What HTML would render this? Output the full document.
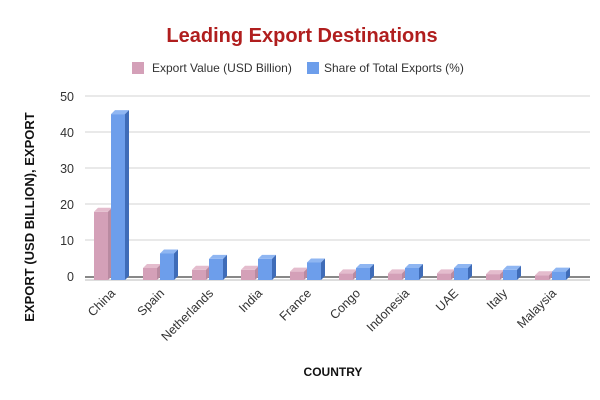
<!DOCTYPE html>
<html><head><meta charset="utf-8"><style>html,body{margin:0;padding:0;background:#fff}svg{display:block}</style></head>
<body>
<svg width="600" height="400" viewBox="0 0 600 400" xmlns="http://www.w3.org/2000/svg" font-family="Liberation Sans, Arial, sans-serif">
<rect width="600" height="400" fill="#fff"/>
<text x="302" y="42" text-anchor="middle" font-size="20" font-weight="bold" fill="#b01e1e">Leading Export Destinations</text>
<rect x="132" y="62" width="12" height="12" fill="#d4a0b8"/>
<text x="152" y="72" font-size="12" fill="#333">Export Value (USD Billion)</text>
<rect x="307" y="62" width="12" height="12" fill="#6d9eeb"/>
<text x="324" y="72" font-size="12" fill="#333">Share of Total Exports (%)</text>
<g stroke="#e2e2e2" stroke-width="1.5">
<line x1="85" y1="96" x2="590" y2="96"/><line x1="85" y1="132" x2="590" y2="132"/>
<line x1="85" y1="168" x2="590" y2="168"/><line x1="85" y1="204" x2="590" y2="204"/>
<line x1="85" y1="240" x2="590" y2="240"/>
</g>
<line x1="85" y1="277" x2="590" y2="277" stroke="#888" stroke-width="2"/>
<line x1="85" y1="280" x2="590" y2="280" stroke="#ddd" stroke-width="2"/>
<g font-size="12.5" fill="#333" text-anchor="end">
<text x="74" y="101">50</text><text x="74" y="137">40</text><text x="74" y="173">30</text>
<text x="74" y="209">20</text><text x="74" y="245">10</text><text x="74" y="281">0</text>
</g>
<text transform="translate(34,217) rotate(-90)" text-anchor="middle" font-size="13" font-weight="bold" fill="#111">EXPORT (USD BILLION),  EXPORT</text>
<text x="333" y="376" text-anchor="middle" font-size="12" font-weight="bold" fill="#111">COUNTRY</text>
<g id="bars">
<rect x="94" y="211.8" width="14" height="68.2" fill="#d4a0b8"/><path d="M94,211.8 l4,-4 h14 l-4,4z" fill="#e4bccd"/><path d="M108,211.8 l4,-4 V276 l-4,4z" fill="#b98aa1"/>
<rect x="111" y="114.1" width="14" height="165.9" fill="#6d9eeb"/><path d="M111,114.1 l4,-4 h14 l-4,4z" fill="#8fb6f2"/><path d="M125,114.1 l4,-4 V276 l-4,4z" fill="#3f6cb8"/>
<rect x="143" y="268" width="14" height="12" fill="#d4a0b8"/><path d="M143,268 l4,-4 h14 l-4,4z" fill="#e4bccd"/><path d="M157,268 l4,-4 V276 l-4,4z" fill="#b98aa1"/>
<rect x="160" y="253.5" width="14" height="26.5" fill="#6d9eeb"/><path d="M160,253.5 l4,-4 h14 l-4,4z" fill="#8fb6f2"/><path d="M174,253.5 l4,-4 V276 l-4,4z" fill="#3f6cb8"/>
<rect x="192" y="269.8" width="14" height="10.2" fill="#d4a0b8"/><path d="M192,269.8 l4,-4 h14 l-4,4z" fill="#e4bccd"/><path d="M206,269.8 l4,-4 V276 l-4,4z" fill="#b98aa1"/>
<rect x="209" y="258.9" width="14" height="21.1" fill="#6d9eeb"/><path d="M209,258.9 l4,-4 h14 l-4,4z" fill="#8fb6f2"/><path d="M223,258.9 l4,-4 V276 l-4,4z" fill="#3f6cb8"/>
<rect x="241" y="269.8" width="14" height="10.2" fill="#d4a0b8"/><path d="M241,269.8 l4,-4 h14 l-4,4z" fill="#e4bccd"/><path d="M255,269.8 l4,-4 V276 l-4,4z" fill="#b98aa1"/>
<rect x="258" y="258.9" width="14" height="21.1" fill="#6d9eeb"/><path d="M258,258.9 l4,-4 h14 l-4,4z" fill="#8fb6f2"/><path d="M272,258.9 l4,-4 V276 l-4,4z" fill="#3f6cb8"/>
<rect x="290" y="271.6" width="14" height="8.4" fill="#d4a0b8"/><path d="M290,271.6 l4,-4 h14 l-4,4z" fill="#e4bccd"/><path d="M304,271.6 l4,-4 V276 l-4,4z" fill="#b98aa1"/>
<rect x="307" y="262.5" width="14" height="17.5" fill="#6d9eeb"/><path d="M307,262.5 l4,-4 h14 l-4,4z" fill="#8fb6f2"/><path d="M321,262.5 l4,-4 V276 l-4,4z" fill="#3f6cb8"/>
<rect x="339" y="273.4" width="14" height="6.6" fill="#d4a0b8"/><path d="M339,273.4 l4,-4 h14 l-4,4z" fill="#e4bccd"/><path d="M353,273.4 l4,-4 V276 l-4,4z" fill="#b98aa1"/>
<rect x="356" y="268" width="14" height="12" fill="#6d9eeb"/><path d="M356,268 l4,-4 h14 l-4,4z" fill="#8fb6f2"/><path d="M370,268 l4,-4 V276 l-4,4z" fill="#3f6cb8"/>
<rect x="388" y="273.4" width="14" height="6.6" fill="#d4a0b8"/><path d="M388,273.4 l4,-4 h14 l-4,4z" fill="#e4bccd"/><path d="M402,273.4 l4,-4 V276 l-4,4z" fill="#b98aa1"/>
<rect x="405" y="268" width="14" height="12" fill="#6d9eeb"/><path d="M405,268 l4,-4 h14 l-4,4z" fill="#8fb6f2"/><path d="M419,268 l4,-4 V276 l-4,4z" fill="#3f6cb8"/>
<rect x="437" y="273.4" width="14" height="6.6" fill="#d4a0b8"/><path d="M437,273.4 l4,-4 h14 l-4,4z" fill="#e4bccd"/><path d="M451,273.4 l4,-4 V276 l-4,4z" fill="#b98aa1"/>
<rect x="454" y="268" width="14" height="12" fill="#6d9eeb"/><path d="M454,268 l4,-4 h14 l-4,4z" fill="#8fb6f2"/><path d="M468,268 l4,-4 V276 l-4,4z" fill="#3f6cb8"/>
<rect x="486" y="274.1" width="14" height="5.9" fill="#d4a0b8"/><path d="M486,274.1 l4,-4 h14 l-4,4z" fill="#e4bccd"/><path d="M500,274.1 l4,-4 V276 l-4,4z" fill="#b98aa1"/>
<rect x="503" y="269.8" width="14" height="10.2" fill="#6d9eeb"/><path d="M503,269.8 l4,-4 h14 l-4,4z" fill="#8fb6f2"/><path d="M517,269.8 l4,-4 V276 l-4,4z" fill="#3f6cb8"/>
<rect x="535" y="275.2" width="14" height="4.8" fill="#d4a0b8"/><path d="M535,275.2 l4,-4 h14 l-4,4z" fill="#e4bccd"/><path d="M549,275.2 l4,-4 V276 l-4,4z" fill="#b98aa1"/>
<rect x="552" y="271.6" width="14" height="8.4" fill="#6d9eeb"/><path d="M552,271.6 l4,-4 h14 l-4,4z" fill="#8fb6f2"/><path d="M566,271.6 l4,-4 V276 l-4,4z" fill="#3f6cb8"/>
</g>
<g font-size="12.5" fill="#333" text-anchor="end">
<text transform="translate(116,294) rotate(-45)">China</text>
<text transform="translate(165,294) rotate(-45)">Spain</text>
<text transform="translate(214,294) rotate(-45)">Netherlands</text>
<text transform="translate(263,294) rotate(-45)">India</text>
<text transform="translate(312,294) rotate(-45)">France</text>
<text transform="translate(361,294) rotate(-45)">Congo</text>
<text transform="translate(410,294) rotate(-45)">Indonesia</text>
<text transform="translate(459,294) rotate(-45)">UAE</text>
<text transform="translate(508,294) rotate(-45)">Italy</text>
<text transform="translate(557,294) rotate(-45)">Malaysia</text>
</g>
</svg>
</body></html>
